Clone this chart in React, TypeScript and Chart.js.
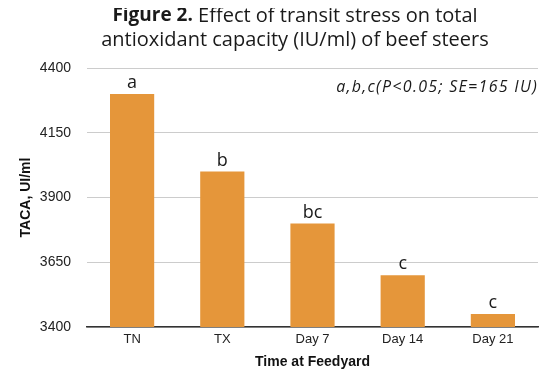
import React, { useEffect, useRef } from "react";
import { Chart, registerables } from "chart.js";

Chart.register(...registerables);

const categories = ["TN", "TX", "Day 7", "Day 14", "Day 21"];
const values = [4300, 4000, 3800, 3600, 3450];
const letters = ["a", "b", "bc", "c", "c"];
const titleBold = "Figure 2.";
const titleRest1 = " Effect of transit stress on total";
const titleLine2 = "antioxidant capacity (IU/ml) of beef steers";
const note = "a,b,c(P<0.05; SE=165 IU)";
const yTitle = "TACA, UI/ml";
const xTitle = "Time at Feedyard";

const TITLE_FONT = "'Open Sans', 'DejaVu Sans', sans-serif";
const AXIS_FONT = "'Liberation Sans', Arial, sans-serif";

const overlay = {
  id: "overlay",
  afterDatasetsDraw(chart: any) {
    const ctx = chart.ctx;
    const area = chart.chartArea;
    ctx.save();
    ctx.fillStyle = "#1a1a1a";
    ctx.textBaseline = "middle";
    const cx = 287;
    ctx.font = `bold 19px ${TITLE_FONT}`;
    const wb = ctx.measureText(titleBold).width;
    ctx.font = `20px ${TITLE_FONT}`;
    const wr = ctx.measureText(titleRest1).width;
    const x0 = cx - (wb + wr) / 2;
    ctx.textAlign = "left";
    ctx.font = `bold 19px ${TITLE_FONT}`;
    ctx.fillText(titleBold, x0, 8);
    ctx.font = `20px ${TITLE_FONT}`;
    ctx.fillText(titleRest1, x0 + wb, 8);
    ctx.textAlign = "center";
    ctx.fillText(titleLine2, cx, 32);
    // note
    ctx.font = `italic 16px ${TITLE_FONT}`;
    try { (ctx as any).letterSpacing = "1.3px"; } catch (e) {}
    ctx.textAlign = "right";
    ctx.fillText(note, area.right, 79);
    try { (ctx as any).letterSpacing = "0px"; } catch (e) {}
    // letters
    const meta = chart.getDatasetMeta(0);
    ctx.font = `18px ${TITLE_FONT}`;
    ctx.textAlign = "center";
    ctx.textBaseline = "bottom";
    meta.data.forEach((bar: any, i: number) => {
      ctx.fillText(letters[i], bar.x, bar.y - 2);
    });
    ctx.restore();
  },
};

export default function App() {
  const ref = useRef<HTMLCanvasElement>(null);
  useEffect(() => {
    const chart = new Chart(ref.current!, {
      type: "bar",
      data: {
        labels: categories,
        datasets: [
          {
            data: values,
            backgroundColor: "#E5963A",
            barPercentage: 0.49,
            categoryPercentage: 1,
          },
        ],
      },
      options: {
        animation: false,
        responsive: false,
        maintainAspectRatio: false,
        layout: { padding: { top: 60, right: 6, left: 10, bottom: 0 } },
        plugins: { legend: { display: false }, tooltip: { enabled: false } },
        scales: {
          x: {
            afterFit: (s: any) => { s.height = 44; },
            grid: { display: false, drawTicks: false },
            border: { display: true, color: "#333", width: 1.5 },
            ticks: {
              color: "#222",
              font: { family: AXIS_FONT, size: 13 },
              padding: 5,
            },
            title: {
              display: true,
              text: xTitle,
              color: "#111",
              font: { family: AXIS_FONT, size: 14, weight: "bold" },
              padding: { top: 2, bottom: 0 },
            },
          },
          y: {
            afterFit: (s: any) => { s.width = 69; },
            min: 3400,
            max: 4400,
            ticks: {
              stepSize: 250,
              color: "#222",
              padding: 16,
              font: { family: AXIS_FONT, size: 14 },
              callback: (v: any) => String(v),
            },
            grid: { color: "#cccccc", drawTicks: false, lineWidth: 1 },
            border: { display: false },
            title: {
              display: true,
              text: yTitle,
              color: "#111",
              font: { family: AXIS_FONT, size: 14, weight: "bold" },
              padding: { top: 0, bottom: 6 },
            },
          },
        },
      },
      plugins: [overlay],
    });
    return () => chart.destroy();
  }, []);
  return (
    <div style={{ width: 536, height: 363 }}>
      <canvas ref={ref} width={536} height={363} />
    </div>
  );
}
